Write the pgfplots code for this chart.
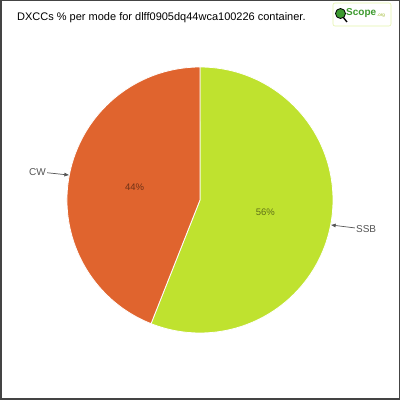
\documentclass[border=0pt]{standalone}
\usepackage{pgfplots}
\usepackage{pgfplotstable}
\pgfplotsset{compat=1.18}
\usepackage{fontspec}
\setmainfont{Liberation Sans}
\usetikzlibrary{arrows.meta}

\definecolor{ssbgreen}{HTML}{BFE22F}
\definecolor{cworange}{HTML}{E0642E}
\definecolor{labelgray}{HTML}{555555}
\definecolor{framegray}{HTML}{444444}
\definecolor{logogreen}{HTML}{3C9A2E}

% share of DXCCs per mode, in percent
\pgfplotstableread{
mode share
SSB 56
CW 44
}\modes

\begin{document}
\begin{tikzpicture}
\useasboundingbox (0pt,0pt) rectangle (400pt,400pt);
\fill[white] (0pt,0pt) rectangle (400pt,400pt);
\draw[framegray, line width=1.5pt] (0.75pt,0.75pt) rectangle (399.25pt,399.25pt);

% title and logo
\node[anchor=west, inner sep=0pt, font=\fontsize{11}{13}\selectfont] at (17pt,382.5pt)
  {DXCCs \% per mode for dlff0905dq44wca100226 container.};
\draw[ssbgreen!40, line width=0.6pt, rounded corners=2pt] (333pt,374pt) rectangle (391pt,397pt);
\draw[black, line width=1.4pt] (343pt,383pt) -- (347pt,378pt);
\fill[logogreen, draw=black, line width=0.8pt] (340.5pt,386.5pt) circle (5pt);
\node[anchor=west, inner sep=0pt, text=logogreen, font=\bfseries\fontsize{10}{12}\selectfont] at (346pt,387pt) {Scope};
\node[anchor=west, inner sep=0pt, text=ssbgreen!80!black, font=\fontsize{4.5}{5}\selectfont] at (377pt,384pt) {.org};

\pgfplotstablegetelem{0}{share}\of\modes \let\ssb\pgfplotsretval
\pgfplotstablegetelem{1}{share}\of\modes \let\cw\pgfplotsretval
\pgfmathsetmacro\aA{90}
\pgfmathsetmacro\aB{90-3.6*\ssb}
\pgfmathsetmacro\aC{\aB-3.6*\cw}
\pgfmathsetmacro\mA{(\aA+\aB)/2}
\pgfmathsetmacro\mB{(\aB+\aC)/2}
\pgfmathsetmacro\xA{cos(\aA)}\pgfmathsetmacro\yA{sin(\aA)}
\pgfmathsetmacro\xB{cos(\aB)}\pgfmathsetmacro\yB{sin(\aB)}
\pgfmathsetmacro\xmA{cos(\mA)}\pgfmathsetmacro\ymA{sin(\mA)}
\pgfmathsetmacro\xmB{cos(\mB)}\pgfmathsetmacro\ymB{sin(\mB)}
\pgfmathsetmacro\hxA{0.5*\xmA}\pgfmathsetmacro\hyA{0.5*\ymA}
\pgfmathsetmacro\hxB{0.5*\xmB}\pgfmathsetmacro\hyB{0.5*\ymB}

\begin{axis}[at={(200pt,200pt)}, anchor=center, scale only axis,
  width=266pt, height=266pt, hide axis, clip=false,
  xmin=-1, xmax=1, ymin=-1, ymax=1]
\fill[ssbgreen, draw=white, line width=0.8pt] (axis cs:0,0) -- (axis cs:\xA,\yA)
  arc[start angle=\aA, end angle=\aB, radius=133pt] -- cycle;
\fill[cworange, draw=white, line width=0.8pt] (axis cs:0,0) -- (axis cs:\xB,\yB)
  arc[start angle=\aB, end angle=\aC, radius=133pt] -- cycle;

\node[text=black, opacity=0.5, font=\fontsize{9.5}{11}\selectfont] at (axis cs:\hxA,\hyA) {56\%};
\node[text=black, opacity=0.5, font=\fontsize{9.5}{11}\selectfont] at (axis cs:\hxB,\hyB) {44\%};

\draw[labelgray, line width=0.7pt, -{Latex[length=5pt,width=4pt]}]
  (axis cs:1.165,-0.21) -- (axis cs:\xmA,\ymA);
\node[anchor=west, inner sep=1pt, text=labelgray, font=\fontsize{10}{12}\selectfont] at (axis cs:1.165,-0.215) {SSB};
\draw[labelgray, line width=0.7pt, -{Latex[length=5pt,width=4pt]}]
  (axis cs:-1.15,0.205) -- (axis cs:\xmB,\ymB);
\node[anchor=east, inner sep=1pt, text=labelgray, font=\fontsize{10}{12}\selectfont] at (axis cs:-1.15,0.21) {CW};
\end{axis}
\end{tikzpicture}
\end{document}
